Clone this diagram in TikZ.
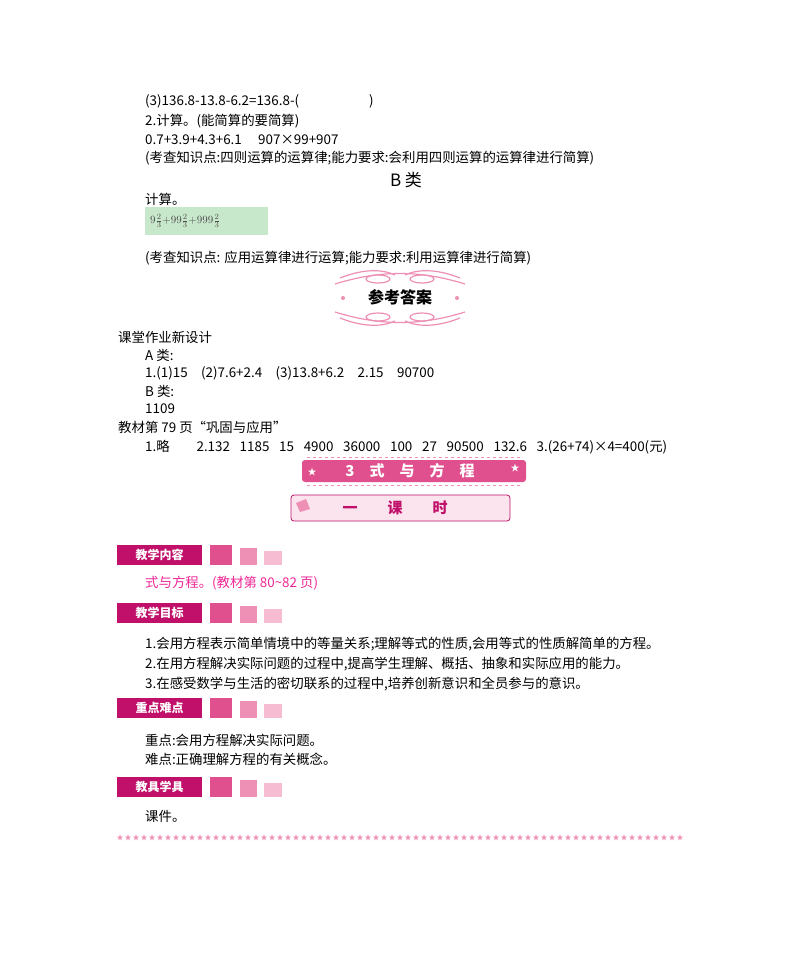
\documentclass[tikz,border=0pt]{standalone}
\usepackage{fontspec}
\setmainfont{Noto Sans CJK SC}
\usetikzlibrary{calc}
\definecolor{pk}{HTML}{E0508E}
\definecolor{pk2}{HTML}{EE8FB5}
\definecolor{pk3}{HTML}{F5BCD2}
\definecolor{dm}{HTML}{C0106A}
\definecolor{gbox}{HTML}{C8E8CC}
\tikzset{
 txt/.style={anchor=west,inner sep=0pt,font=\fontsize{13.4}{15}\selectfont},
 head/.style={fill=dm,text=white,minimum width=85,minimum height=20,inner sep=0pt,font=\fontsize{12}{13}\selectfont\bfseries},
}
\newcommand{\mkhead}[3]{%
 \node[head] (#1) at (159.5,#2+10) {#3};
 \fill[pk] (210,#2) rectangle (232,#2+20);
 \fill[pk2] (240,#2+3) rectangle (257,#2+20);
 \fill[pk3] (264,#2+6) rectangle (282,#2+20);}
\begin{document}
\begin{tikzpicture}[x=1pt,y=-1pt]
\useasboundingbox (0,0) rectangle (800,977);
\fill[white] (0,0) rectangle (800,977);
\node[txt] (l1) at (145,101) {(3)136.8-13.8-6.2=136.8-(\hspace{70pt})};
\node[txt] (l2) at (145,121) {2.计算。(能简算的要简算)};
\node[txt] (l3) at (145,140) {0.7+3.9+4.3+6.1};
\node[txt] (l3b) at (258,140) {907×99+907};
\node[txt] (l4) at (145,158) {(考查知识点:四则运算的运算律;能力要求:会利用四则运算的运算律进行简算)};
\node[font=\fontsize{17}{19}\selectfont] (b) at (406,180) {B 类};
\node[txt] (l5) at (145,199) {计算。};
\fill[gbox] (145,207) rectangle (268,235);
\node[txt,font=\fontsize{11}{12}\selectfont,text=gray!60!black] (fr) at (150,221) {$9\frac{2}{3}{+}99\frac{2}{3}{+}999\frac{2}{3}$};
\node[txt] (l6) at (145,258) {(考查知识点: 应用运算律进行运算;能力要求:利用运算律进行简算)};
% ornament
\begin{scope}[pk2,line width=1.2pt]
\draw (335,284) .. controls (380,270) and (420,270) .. (465,284);
\draw (340,278) .. controls (360,270) and (380,268) .. (395,275);
\draw (405,275) .. controls (420,268) and (440,270) .. (460,278);
\draw (378,279) ellipse (12 and 4);
\draw (422,279) ellipse (12 and 4);
\draw (335,312) .. controls (380,326) and (420,326) .. (465,312);
\draw (340,318) .. controls (360,326) and (380,328) .. (395,321);
\draw (405,321) .. controls (420,328) and (440,326) .. (460,318);
\draw (378,317) ellipse (12 and 4);
\draw (422,317) ellipse (12 and 4);
\fill (343,298) circle (2);
\fill (457,298) circle (2);
\end{scope}
\node[font=\fontsize{16}{18}\selectfont\bfseries] (ans) at (400,297) {参考答案};
\node[txt] (k1) at (118,337) {课堂作业新设计};
\node[txt] (k2) at (145,355) {A 类:};
\node[txt] (k3) at (145,373) {1.(1)15\quad (2)7.6+2.4\quad (3)13.8+6.2\quad 2.15\quad 90700};
\node[txt] (k4) at (145,391) {B 类:};
\node[txt] (k5) at (145,409) {1109};
\node[txt] (k6) at (118,427) {教材第 79 页“巩固与应用”};
\node[txt] (k7) at (145,447) {1.略\qquad 2.132\enspace\ 1185\enspace\ 15\enspace\ 4900\enspace\ 36000\enspace\ 100\enspace\ 27\enspace\ 90500\enspace\ 132.6\enspace\ 3.(26+74)×4=400(元)};
% banner 1
\draw[pk2,dashed,line width=1pt] (307,457) -- (520,457) (307,485) -- (520,485);
\fill[pk,rounded corners=3] (302,460) rectangle (526,482);
\node[text=white,font=\fontsize{15}{16}\selectfont\bfseries] (bn1) at (410,471) {\itshape 3\quad 式\quad 与\quad 方\quad 程};
\node[text=white,font=\fontsize{9}{9}\selectfont] at (312,472) {★};
\node[text=white,font=\fontsize{9}{9}\selectfont] at (515,468) {★};
% banner 2
\draw[dm,fill=pk3!40,rounded corners=3,line width=0.8pt] (291,495) rectangle (510,521);
\fill[pk2] (296,503) -- (306,499) -- (310,509) -- (300,512) -- cycle;
\node[text=dm,font=\fontsize{15}{16}\selectfont\bfseries] (bn2) at (395,508) {一\quad\quad 课\quad\quad 时};
% headings
\mkhead{h1}{545}{教学内容}
\node[txt,text=magenta!80!pink] (c1) at (145,583) {式与方程。(教材第 80\textasciitilde 82 页)};
\mkhead{h2}{603}{教学目标}
\node[txt] (g1) at (145,644) {1.会用方程表示简单情境中的等量关系;理解等式的性质,会用等式的性质解简单的方程。};
\node[txt] (g2) at (145,664) {2.在用方程解决实际问题的过程中,提高学生理解、概括、抽象和实际应用的能力。};
\node[txt] (g3) at (145,684) {3.在感受数学与生活的密切联系的过程中,培养创新意识和全员参与的意识。};
\mkhead{h3}{698}{重点难点}
\node[txt] (z1) at (145,740) {重点:会用方程解决实际问题。};
\node[txt] (z2) at (145,759) {难点:正确理解方程的有关概念。};
\mkhead{h4}{777}{教具学具}
\node[txt] (j1) at (145,816) {课件。};
\foreach \i in {0,...,70} \node[text=pk2,inner sep=0pt,font=\fontsize{7}{7}\selectfont] at (120+\i*8,838) {★};
\end{tikzpicture}
\end{document}
